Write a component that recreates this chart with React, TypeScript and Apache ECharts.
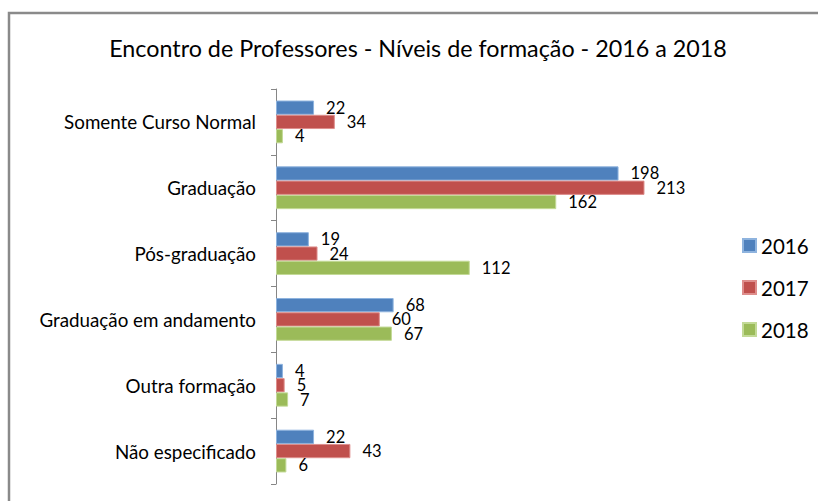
import React, { useEffect, useRef } from "react";
import * as echarts from "echarts";

const categories = [
  "Somente Curso Normal",
  "Graduação",
  "Pós-graduação",
  "Graduação em andamento",
  "Outra formação",
  "Não especificado",
];
const values2016 = [22, 198, 19, 68, 4, 22];
const values2017 = [34, 213, 24, 60, 5, 43];
const values2018 = [4, 162, 112, 67, 7, 6];
const seriesNames = ["2016", "2017", "2018"];
const colors = ["#4F81BD", "#C0504D", "#9BBB59"];
const borders = ["#8EB3DE", "#DE8E8C", "#C3DA97"];
const titleText = "Encontro de Professores - Níveis de formação - 2016 a 2018";

const FONT = "Lato";

export default function App() {
  const ref = useRef<HTMLDivElement>(null);
  useEffect(() => {
    if (!ref.current) return;
    const chart = echarts.init(ref.current, undefined, { renderer: "svg" });
    const data = [values2016, values2017, values2018];
    chart.setOption({
      animation: false,
      backgroundColor: "#ffffff",
      title: {
        text: titleText,
        left: 413,
        top: 31,
        textAlign: "center",
        textStyle: { fontFamily: FONT, fontSize: 23.3, fontWeight: "normal", color: "#000" },
      },
      legend: {
        orient: "vertical",
        left: 737,
        top: 230,
        itemWidth: 13,
        itemHeight: 13,
        itemGap: 21,
        icon: "rect",
        data: seriesNames,
        textStyle: { fontFamily: FONT, fontSize: 20.5, color: "#000" },
      },
      grid: { left: 276, top: 89, width: 432.5, height: 395 },
      xAxis: {
        type: "value",
        min: 0,
        max: 250,
        show: false,
        splitLine: { show: false },
      },
      yAxis: {
        type: "category",
        inverse: true,
        data: categories,
        axisLine: { show: true, lineStyle: { color: "#868686", width: 1 } },
        axisTick: { show: true, length: 5, lineStyle: { color: "#868686" } },
        axisLabel: { fontFamily: FONT, fontSize: 18.8, color: "#000", margin: 20 },
      },
      series: seriesNames.map((name, i) => ({
        name,
        type: "bar",
        data: data[i],
        barGap: "0%",
        barCategoryGap: "35%",
        itemStyle: { color: colors[i], borderColor: borders[i], borderWidth: 1 },
        label: {
          show: true,
          position: "right",
          distance: 12,
          fontFamily: FONT,
          fontSize: 16.5,
          color: "#000",
        },
      })),
      graphic: [
        {
          type: "rect",
          shape: { x: 9, y: 13, width: 840, height: 520 },
          style: { fill: "none", stroke: "#8A8A8A", lineWidth: 2.5 },
          silent: true,
        },
      ],
    });
    return () => chart.dispose();
  }, []);
  return (
    <div
      ref={ref}
      style={{ position: "fixed", left: 0, top: 0, width: 818, height: 501 }}
    />
  );
}
